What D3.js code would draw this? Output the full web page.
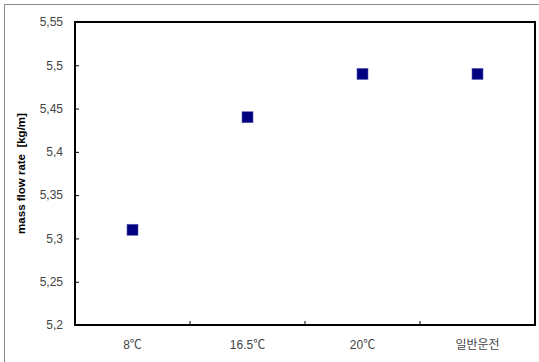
<!DOCTYPE html>
<html><head><meta charset="utf-8">
<script src="https://cdn.jsdelivr.net/npm/d3@7"></script>
<style>body{margin:0;background:#fff}svg{display:block}</style>
</head><body>
<script>
const categories = ["8℃", "16.5℃", "20℃", "일반운전"];
const values = [5.31, 5.44, 5.49, 5.49];
const yTicks = [5.2, 5.25, 5.3, 5.35, 5.4, 5.45, 5.5, 5.55];
const yTitle = "mass flow rate\u00a0\u00a0[kg/m]";

const W = 539, H = 362;
const m = {left: 75, right: 4, top: 22, bottom: 37};
const svg = d3.select("body").append("svg").attr("width", W).attr("height", H);
svg.append("rect").attr("x", 4.5).attr("y", 4.5).attr("width", W).attr("height", H)
  .attr("fill", "#fff").attr("stroke", "#8c8c8c").attr("stroke-width", 1);

const x = d3.scaleBand().domain(categories).range([m.left, W - m.right]);
const y = d3.scaleLinear().domain([5.2, 5.55]).range([H - m.bottom, m.top]);
const font = "Arial, 'Liberation Sans', 'Noto Sans CJK KR', sans-serif";

// plot frame
svg.append("rect").attr("x", m.left).attr("y", m.top)
  .attr("width", W - m.right - m.left).attr("height", H - m.bottom - m.top)
  .attr("fill", "none").attr("stroke", "#000").attr("stroke-width", 2);

// y axis
const ya = svg.append("g").attr("transform", `translate(${m.left},0)`)
  .call(d3.axisLeft(y).tickValues(yTicks).tickSize(-4).tickPadding(12)
    .tickFormat(d => d3.format("")(+d.toFixed(2)).replace(".", ",")));
ya.select(".domain").remove();
ya.selectAll("line").attr("stroke", "#000").attr("stroke-width", 1);
ya.selectAll("text").attr("font-family", font).attr("font-size", 12).attr("fill", "#444");

// x axis
const xa = svg.append("g").attr("transform", `translate(0,${H - m.bottom})`)
  .call(d3.axisBottom(x).tickSize(0).tickPadding(15));
xa.select(".domain").remove();
xa.selectAll("text").attr("font-family", font).attr("font-size", 12).attr("fill", "#444");
// category separator ticks
svg.append("g").selectAll("line").data(categories.slice(1)).join("line")
  .attr("x1", d => x(d)).attr("x2", d => x(d))
  .attr("y1", H - m.bottom).attr("y2", H - m.bottom - 4)
  .attr("stroke", "#000").attr("stroke-width", 1);

// title
svg.append("text").attr("transform", `translate(25,${(m.top + H - m.bottom) / 2}) rotate(-90)`)
  .attr("text-anchor", "middle").attr("font-family", font).attr("font-weight", "bold")
  .attr("font-size", 11.5).attr("fill", "#000").text(yTitle);

// markers
const s = 11;
svg.append("g").selectAll("rect").data(values).join("rect")
  .attr("x", (d, i) => x(categories[i]) + x.bandwidth() / 2 - s / 2)
  .attr("y", d => y(d) - s / 2)
  .attr("width", s).attr("height", s)
  .attr("fill", "#000080").attr("stroke", "#5a5ab0").attr("stroke-width", 0.6);
</script>
</body></html>
